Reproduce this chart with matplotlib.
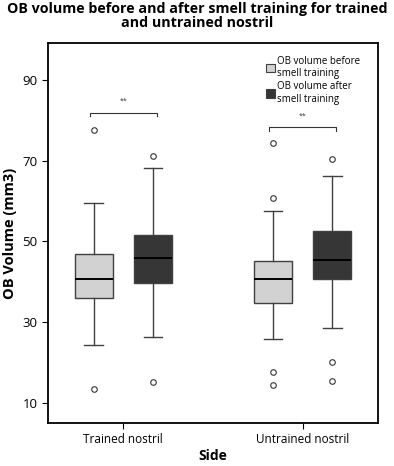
import matplotlib
matplotlib.use("Agg")
import matplotlib.pyplot as plt
from matplotlib.patches import Patch

plt.rcParams['font.family'] = ['Open Sans', 'DejaVu Sans']

groups = ['Trained nostril', 'Untrained nostril']
series = ['OB volume before\nsmell training', 'OB volume after\nsmell training']
colors = ['#d2d2d2', '#363636']

# box stats: whislo, q1, med, q3, whishi, outliers
before = [
    dict(whislo=24.3, q1=36.0, med=40.8, q3=46.8, whishi=59.5, fliers=[77.6, 13.6]),
    dict(whislo=26.0, q1=34.9, med=40.7, q3=45.1, whishi=57.5, fliers=[74.4, 60.8, 17.7, 14.6]),
]
after = [
    dict(whislo=26.3, q1=39.7, med=46.0, q3=51.6, whishi=68.3, fliers=[71.2, 15.2]),
    dict(whislo=28.6, q1=40.7, med=45.5, q3=52.5, whishi=66.3, fliers=[70.4, 20.2, 15.4]),
]
bracket_y = [81.8, 78.2]
yticks = [10, 30, 50, 70, 90]

fig = plt.figure(figsize=(3.94, 4.66), dpi=100)
ax = fig.add_axes([48/394, 43/466, 330/394, 380/466])

offset = 0.165
width = 0.21
for k, stats in enumerate([before, after]):
    pos = [i + (2*k - 1)*offset for i in range(len(groups))]
    ax.bxp(stats, positions=pos, widths=width, patch_artist=True,
           boxprops=dict(facecolor=colors[k], edgecolor='#404040', linewidth=1.0),
           medianprops=dict(color='black', linewidth=1.4),
           whiskerprops=dict(color='#404040', linewidth=1.0),
           capprops=dict(color='#404040', linewidth=1.0),
           capwidths=width*0.5,
           flierprops=dict(marker='o', markersize=4, markerfacecolor='white',
                           markeredgecolor='#333333', markeredgewidth=0.8))

for i, yb in enumerate(bracket_y):
    x0, x1 = i - offset - 0.02, i + offset + 0.02
    ax.plot([x0, x0, x1, x1], [yb - 0.8, yb, yb, yb - 0.8], color='#333333', lw=0.8)
    ax.text(i, yb + 2.0, '**', ha='center', va='bottom', fontsize=5, color='#333333')

ax.set_xlim(-0.42, 1.42)
ax.set_ylim(5.1, 99.1)
ax.set_xticks(range(len(groups)))
ax.set_xticklabels(groups, fontsize=8.5)
ax.set_yticks(yticks)
ax.tick_params(axis='y', labelsize=9.5, length=4, width=0.8)
ax.tick_params(axis='x', length=4, width=0.8, pad=3)
for s in ax.spines.values():
    s.set_linewidth(1.3)

ax.set_xlabel('Side', fontsize=10, fontweight='bold', labelpad=2)
ax.set_ylabel('OB Volume (mm3)', fontsize=10.5, fontweight='bold', labelpad=4)

handles = [Patch(facecolor=c, edgecolor='#404040', linewidth=0.8) for c in colors]
ax.legend(handles, series, loc='upper right', bbox_to_anchor=(0.965, 0.985),
          fontsize=7, frameon=False,
          handlelength=0.9, handleheight=0.9, handletextpad=0.2,
          labelspacing=0.2, borderaxespad=0.3)

fig.text(0.5, 0.995, 'OB volume before and after smell training for trained\nand untrained nostril',
         ha='center', va='top', fontsize=10.3, fontweight='bold', linespacing=0.95)

fig.savefig('out.png', dpi=100)
